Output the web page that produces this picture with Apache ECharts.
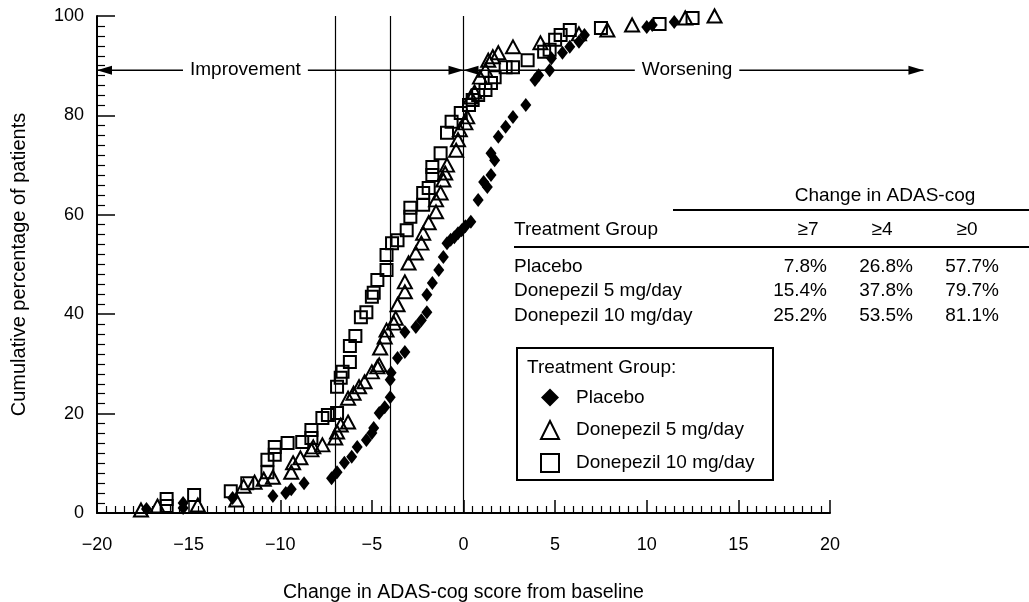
<!DOCTYPE html>
<html>
<head>
<meta charset="utf-8">
<script src="https://cdn.jsdelivr.net/npm/echarts@6/dist/echarts.min.js"></script>
<style>
  html, body { margin: 0; padding: 0; background: #fff; }
  #chart { width: 1029px; height: 602px; }
</style>
</head>
<body>
<div id="chart"></div>
<script>
const FONT = '"Liberation Sans", Arial, Helvetica, sans-serif';

// cumulative % of patients vs change in ADAS-cog score
const placebo = [
  [-17.3, 0.8], [-15.3, 1.0], [-15.3, 2.0], [-12.6, 3.0], [-10.4, 3.4], [-9.7, 4.0],
  [-9.4, 4.8], [-8.7, 6.0], [-7.2, 7.0], [-6.9, 8.2], [-6.5, 10.1], [-6.1, 11.3],
  [-5.8, 13.3], [-5.3, 14.7], [-5.0, 16.1], [-4.9, 17.1], [-4.6, 20.1], [-4.3, 21.3],
  [-4.0, 23.3], [-4.0, 26.8], [-3.95, 28.2], [-3.6, 31.2], [-3.2, 32.4], [-3.2, 36.4],
  [-2.6, 37.4], [-2.3, 38.8], [-2.0, 40.4], [-2.0, 43.9], [-1.7, 46.3], [-1.35, 48.9],
  [-1.1, 51.5], [-0.9, 54.3], [-0.7, 55.0], [-0.5, 55.5], [-0.3, 56.3], [-0.1, 56.9],
  [0.1, 57.7], [0.4, 58.6], [0.8, 63.0], [1.1, 66.6], [1.3, 65.6], [1.5, 68.0],
  [1.7, 71.0], [1.5, 72.4], [1.9, 75.7], [2.3, 77.7], [2.7, 79.7], [3.4, 82.1],
  [3.9, 87.1], [4.1, 88.1], [4.7, 89.1], [4.8, 91.5], [5.4, 92.6], [5.8, 93.8],
  [6.3, 94.8], [6.6, 96.2], [10.0, 97.8], [10.3, 98.2], [11.5, 98.8]
];
const donepezil5 = [
  [-17.6, 0.6], [-16.7, 1.4], [-14.5, 1.6], [-12.4, 2.6], [-12.0, 5.4], [-11.4, 6.2],
  [-10.9, 6.8], [-10.4, 7.2], [-9.4, 8.2], [-9.3, 10.1], [-8.9, 11.1], [-8.3, 12.7],
  [-8.2, 13.3], [-7.7, 13.7], [-7.0, 15.1], [-6.9, 16.3], [-6.7, 17.7], [-6.3, 18.3],
  [-6.3, 23.1], [-6.0, 24.1], [-5.7, 25.4], [-5.4, 26.4], [-5.0, 28.4], [-4.7, 29.4],
  [-4.6, 29.8], [-4.55, 33.2], [-4.3, 35.4], [-4.2, 36.8], [-3.8, 38.2], [-3.7, 39.2],
  [-3.6, 41.9], [-3.2, 44.5], [-3.2, 46.5], [-3.0, 50.3], [-2.6, 52.3], [-2.3, 54.3],
  [-2.2, 56.3], [-1.9, 58.4], [-1.5, 60.6], [-1.5, 63.0], [-1.25, 64.4], [-1.1, 67.0],
  [-1.0, 68.4], [-0.9, 70.0], [-0.4, 73.0], [-0.3, 75.1], [-0.2, 77.1], [0.1, 78.5],
  [0.2, 79.7], [0.4, 83.7], [0.6, 84.7], [0.9, 87.7], [1.2, 89.1], [1.35, 91.1],
  [1.6, 91.8], [1.9, 92.6], [2.7, 93.8], [4.2, 94.6], [6.3, 96.4], [7.85, 97.2],
  [9.2, 98.2], [12.1, 99.6], [13.7, 100]
];
const donepezil10 = [
  [-16.2, 1.4], [-16.2, 2.8], [-14.7, 3.6], [-12.7, 4.4], [-11.8, 6.0], [-10.7, 8.2],
  [-10.7, 10.7], [-10.3, 11.7], [-10.3, 13.3], [-9.6, 14.1], [-8.8, 14.3], [-8.3, 15.1],
  [-8.3, 16.7], [-7.7, 19.1], [-7.4, 19.7], [-6.9, 20.1], [-6.9, 25.4], [-6.7, 27.2],
  [-6.6, 28.4], [-6.2, 30.4], [-6.2, 33.6], [-5.9, 35.6], [-5.6, 39.4], [-5.3, 40.4],
  [-5.0, 43.5], [-4.9, 44.3], [-4.7, 46.9], [-4.2, 48.9], [-4.2, 51.9], [-3.9, 54.3],
  [-3.6, 54.9], [-3.1, 56.9], [-2.9, 59.6], [-2.9, 61.4], [-2.2, 62.0], [-2.2, 64.4],
  [-1.9, 65.4], [-1.7, 68.0], [-1.7, 69.6], [-1.25, 72.4], [-0.9, 76.5], [-0.65, 78.7],
  [-0.15, 80.5], [0.3, 82.1], [0.5, 83.1], [0.8, 84.1], [1.2, 85.1], [1.5, 86.5],
  [1.7, 87.7], [2.3, 89.7], [2.7, 89.7], [3.5, 91.1], [4.4, 92.8], [4.7, 93.2],
  [5.0, 95.2], [5.3, 96.2], [5.8, 97.2], [7.5, 97.6], [10.7, 98.4], [12.5, 99.6]
];

const thresholds = [-7, -4, 0];
const tableCols = ['≥7', '≥4', '≥0'];
const tableGroups = ['Placebo', 'Donepezil 5 mg/day', 'Donepezil 10 mg/day'];
const tableValues = [
  ['7.8%', '26.8%', '57.7%'],
  ['15.4%', '37.8%', '79.7%'],
  ['25.2%', '53.5%', '81.1%']
];
// arrow annotations: y level, ends and label centres in data units
const arrowY = 89.1;
const improveArrow = { from: -20, to: 0, labelAt: -11.9, text: 'Improvement' };
const worsenArrow = { from: 0, to: 25.1, labelAt: 12.2, text: 'Worsening' };

const chart = echarts.init(document.getElementById('chart'));

const minus = v => (v < 0 ? '\u2212' + (-v) : String(v));
const black = '#000';
const TXT = '19px ' + FONT;

const option = {
  animation: false,
  backgroundColor: '#fff',
  textStyle: { fontFamily: FONT, color: black },
  grid: { left: 97, right: 199, top: 16, bottom: 89, outerBoundsMode: 'none' },
  xAxis: {
    type: 'value', min: -20, max: 20, interval: 5,
    axisLine: { show: true, onZero: false, lineStyle: { color: black, width: 2 } },
    axisTick: { show: true, inside: true, length: 13, lineStyle: { color: black, width: 1.5 } },
    minorTick: { show: true, splitNumber: 10, length: 7, lineStyle: { color: black, width: 1.2 } },
    splitLine: { show: false },
    axisLabel: { color: black, fontSize: 18, fontFamily: FONT, margin: 23, formatter: minus },
    name: 'Change in ADAS-cog score from baseline',
    nameLocation: 'middle', nameGap: 70,
    nameTextStyle: { color: black, fontSize: 19.5, fontFamily: FONT }
  },
  yAxis: {
    type: 'value', min: 0, max: 100, interval: 20,
    axisLine: { show: true, onZero: false, lineStyle: { color: black, width: 2 } },
    axisTick: { show: true, inside: true, length: 18, lineStyle: { color: black, width: 1.5 } },
    minorTick: { show: true, splitNumber: 10, length: 8, lineStyle: { color: black, width: 1.2 } },
    splitLine: { show: false },
    axisLabel: { color: black, fontSize: 18, fontFamily: FONT, margin: 13 },
    name: 'Cumulative percentage of patients',
    nameLocation: 'middle', nameGap: 68, nameRotate: 90,
    nameTextStyle: { color: black, fontSize: 20, fontFamily: FONT }
  },
  legend: {
    orient: 'vertical', left: 535, top: 383, padding: 5,
    itemWidth: 18, itemHeight: 18, itemGap: 13,
    selectedMode: false,
    textStyle: { color: black, fontSize: 19, fontFamily: FONT, padding: [0, 0, 0, 12] },
    data: tableGroups
  },
  series: [
    {
      name: tableGroups[0], type: 'scatter', data: placebo,
      symbol: 'diamond', symbolSize: [11, 14],
      itemStyle: { color: black, opacity: 1 },
      emphasis: { disabled: true },
      markLine: {
        silent: true, symbol: 'none', label: { show: false },
        lineStyle: { color: black, width: 1.2, type: 'solid' },
        emphasis: { disabled: true },
        data: thresholds.map(v => ({ xAxis: v }))
      }
    },
    {
      name: tableGroups[1], type: 'scatter', data: donepezil5,
      symbol: 'triangle', symbolSize: [14, 13],
      itemStyle: { color: 'rgba(255,255,255,0)', borderColor: black, borderWidth: 2, opacity: 1 },
      emphasis: { disabled: true }
    },
    {
      name: tableGroups[2], type: 'scatter', data: donepezil10,
      symbol: 'rect', symbolSize: 12,
      itemStyle: { color: 'rgba(255,255,255,0)', borderColor: black, borderWidth: 2, opacity: 1 },
      emphasis: { disabled: true }
    }
  ]
};
chart.setOption(option);

// annotations: arrows, table and legend frame
const px = (x, y) => chart.convertToPixel({ gridIndex: 0 }, [x, y]);
const g = [];

function head(tip, dir) {
  return {
    type: 'polygon', z: 20,
    shape: { points: [[tip[0], tip[1]], [tip[0] - dir * 15, tip[1] - 4.5], [tip[0] - dir * 15, tip[1] + 4.5]] },
    style: { fill: black }
  };
}
function arrow(a) {
  const p0 = px(a.from, arrowY), p1 = px(a.to, arrowY), pm = px(a.labelAt, arrowY);
  g.push({ type: 'line', z: 20, shape: { x1: p0[0], y1: p0[1], x2: p1[0], y2: p1[1] }, style: { stroke: black, lineWidth: 1.5 } });
  g.push(head(p0, -1), head(p1, 1));
  g.push({
    type: 'text', z: 21, x: pm[0], y: pm[1],
    style: { text: a.text, font: TXT, fill: black, align: 'center', verticalAlign: 'middle',
      backgroundColor: '#fff', padding: [2, 7] }
  });
}
arrow(improveArrow);
arrow(worsenArrow);

function txt(text, x, y, align) {
  g.push({ type: 'text', z: 20, x: x, y: y,
    style: { text: text, font: TXT, fill: black, align: align || 'left', verticalAlign: 'middle' } });
}
function hline(x1, x2, y) {
  g.push({ type: 'line', z: 20, shape: { x1: x1, y1: y, x2: x2, y2: y }, style: { stroke: black, lineWidth: 2 } });
}

// table
txt('Change in ADAS-cog', 885, 196, 'center');
hline(673, 1029, 210);
txt('Treatment Group', 514, 230);
const colCenters = [808, 882, 967];
const colRights = [827, 913, 999];
tableCols.forEach((c, i) => txt(c, colCenters[i], 230, 'center'));
hline(514, 1029, 247);
const rowY = [267, 291, 316];
tableGroups.forEach((name, r) => {
  txt(name, 514, rowY[r]);
  tableValues[r].forEach((v, i) => txt(v, colRights[i], rowY[r], 'right'));
});

// legend frame
g.push({ type: 'rect', z: 20, shape: { x: 517, y: 348, width: 256, height: 132 },
  style: { fill: 'none', stroke: black, lineWidth: 2 } });
txt('Treatment Group:', 527, 368);

chart.setOption({ graphic: g });
</script>
</body>
</html>
